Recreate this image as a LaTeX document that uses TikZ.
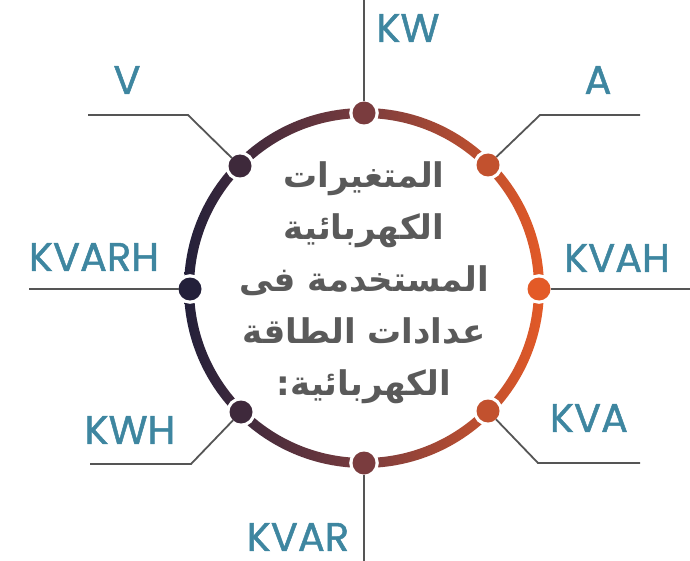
\documentclass[tikz,border=0pt]{standalone}
\usepackage{fontspec}
\setmainfont{Poppins}
\newfontfamily\labfont{Poppins}[FakeBold=1.2]
\newfontfamily\arabicfont[Script=Arabic]{DejaVu Sans}
\TeXXeTstate=1
\definecolor{navy}{HTML}{23203A}
\definecolor{midc}{HTML}{7A3C3E}
\definecolor{orng}{HTML}{E35A27}
\definecolor{teal}{HTML}{3E86A0}
\definecolor{leadgray}{HTML}{555555}
\definecolor{txtgray}{HTML}{5A5A5A}
\tikzset{
  dot/.style={circle, inner sep=0pt, outer sep=0pt, minimum size=23pt,
    preaction={draw=white, line width=6.5pt}},
  lead/.style={draw=leadgray, line width=1.8pt},
  lab/.style={text=teal, font=\labfont\fontsize{40}{40}\selectfont, inner sep=0pt, anchor=center}
}
\begin{document}
\begin{tikzpicture}[x=1pt,y=-1pt]
\useasboundingbox (0,0) rectangle (690,561);
\shade[left color=navy, right color=orng, middle color=midc, even odd rule]
  (364,288) circle (180pt) (364,288) circle (170pt);
% dots
\node[dot, fill=midc] (dT) at (364,113) {};
\node[dot, fill=orng!69!midc] (dTR) at (488,165) {};
\node[dot, fill=orng] (dR) at (539,289) {};
\node[dot, fill=orng!69!midc] (dBR) at (488,411) {};
\node[dot, fill=midc] (dB) at (364,463) {};
\node[dot, fill=navy!69!midc] (dBL) at (241,412) {};
\node[dot, fill=navy] (dL) at (190,289) {};
\node[dot, fill=navy!69!midc] (dTL) at (240,166) {};
% leader end points
\coordinate (eT) at (364,0);
\coordinate (kTR) at (540,115); \coordinate (eTR) at (640,115);
\coordinate (eR) at (690,289);
\coordinate (kBR) at (538,463); \coordinate (eBR) at (640,463);
\coordinate (eB) at (364,561);
\coordinate (kBL) at (191,464); \coordinate (eBL) at (90,464);
\coordinate (eL) at (29,289);
\coordinate (kTL) at (188,115); \coordinate (eTL) at (88,115);
\draw[lead] (eT) -- (dT);
\draw[lead] (dTR) -- (kTR) -- (eTR);
\draw[lead] (dR) -- (eR);
\draw[lead] (dBR) -- (kBR) -- (eBR);
\draw[lead] (dB) -- (eB);
\draw[lead] (dBL) -- (kBL) -- (eBL);
\draw[lead] (dL) -- (eL);
\draw[lead] (dTL) -- (kTL) -- (eTL);
% labels
\node[lab] (lKW) at (408,28) {KW};
\node[lab] (lA) at (598,80) {A};
\node[lab] (lKVAH) at (617,258) {KVAH};
\node[lab] (lKVA) at (589,418) {KVA};
\node[lab] (lKVAR) at (298,537) {KVAR};
\node[lab] (lKWH) at (130,430) {KWH};
\node[lab] (lKVARH) at (94,257) {KVARH};
\node[lab] (lV) at (127,80) {V};
% centre text
\node[text=txtgray, align=center, inner sep=0pt,
  font=\arabicfont\bfseries\fontsize{34}{52}\selectfont] (title) at (364,283)
  {\beginR المتغيرات\endR\\ \beginR الكهربائية\endR\\ \beginR المستخدمة فى\endR\\ \beginR عدادات الطاقة\endR\\ \beginR الكهربائية:\endR};
\end{tikzpicture}
\end{document}
